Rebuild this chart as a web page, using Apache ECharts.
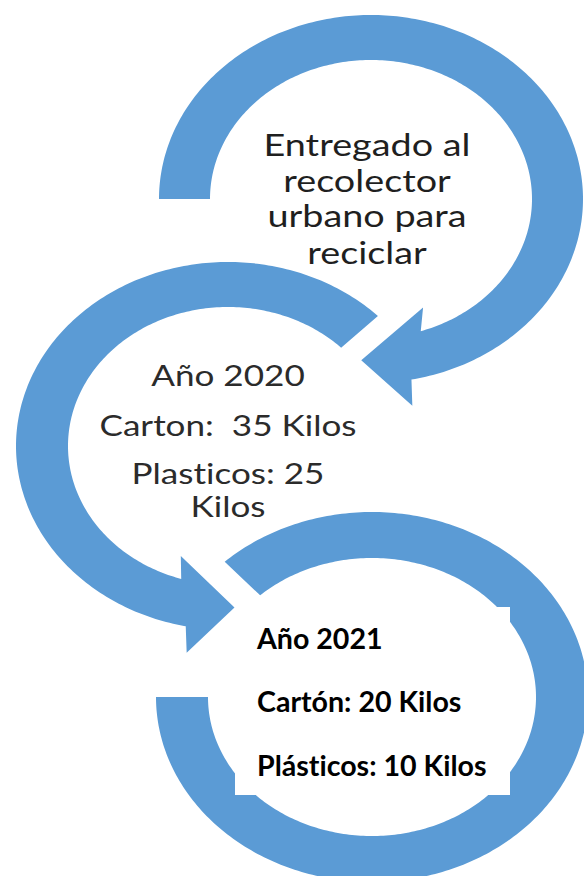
<!DOCTYPE html>
<html>
<head>
<meta charset="utf-8">
<script src="https://cdn.jsdelivr.net/npm/echarts@6/dist/echarts.min.js"></script>
<style>
html,body{margin:0;padding:0;background:#ffffff;}
#chart{width:584px;height:876px;}
#chart svg text{font-variant-ligatures:none !important;font-feature-settings:"liga" 0,"clig" 0,"dlig" 0 !important;}
</style>
</head>
<body>
<div id="chart"></div>
<script>
// ---------- DATA ----------
const stepTopLines = ['Entregado al', 'recolector', 'urbano para', 'reciclar'];
const years = ['Año 2020', 'Año 2021'];
const materials2020 = ['Carton', 'Plasticos'];
const kilos2020 = [35, 25];
const materials2021 = ['Cartón', 'Plásticos'];
const kilos2021 = [20, 10];
const unit = 'Kilos';

const midLines = [
  years[0],
  materials2020[0] + ':  ' + kilos2020[0] + ' ' + unit,
  materials2020[1] + ': ' + kilos2020[1],
  unit
];
const botLines = [
  years[1],
  materials2021[0] + ': ' + kilos2021[0] + ' ' + unit,
  materials2021[1] + ': ' + kilos2021[1] + ' ' + unit
];

// ---------- LAYOUT / STYLE ----------
const ARC_COLOR = '#5B9BD5';
const rings = [
  {c: [371, 199], outer: [212, 184], inner: [161, 139], start: 180, outerEnd: 439, innerEnd: 432,
   wingOut: {off: 26, t: 440}, tip: 453, wingIn: {off: -22, t: 428}},
  {c: [228, 446], outer: [212, 184], inner: [160, 139], start: -45, outerEnd: -258.5, innerEnd: -253,
   wingOut: {off: 26, t: -260}, tip: -272, wingIn: {off: -22, t: -250}},
  {c: [372, 697], outer: [216, 185], inner: [164, 139], start: 227, outerEnd: 540, innerEnd: 540}
];
const FONT_FAMILY = 'Lato, "Open Sans", sans-serif';
const textBlocks = [
  {lines: stepTopLines, x: 367, baselines: [157, 193, 228, 265], align: 'center',
   size: 30, weight: 'normal', fill: '#1f1f1f', fitLine: 0, fitWidth: 207},
  {lines: midLines, x: 228, baselines: [387, 437, 485, 518], align: 'center',
   size: 28, weight: 'normal', fill: '#2b2b2b', fitLine: 1, fitWidth: 257},
  {lines: botLines, x: 257, baselines: [650, 713, 777], align: 'left',
   size: 28, weight: 'bold', fill: '#000000', fitLine: 2, fitWidth: 230, box: [235, 607, 510, 795]}
];

function fontOf(b) { return b.weight + ' ' + b.size + 'px ' + FONT_FAMILY; }
const measureCtx = document.createElement('canvas').getContext('2d');
function fitScale(b) {
  measureCtx.font = fontOf(b);
  const w = measureCtx.measureText(b.lines[b.fitLine]).width;
  return w > 0 ? b.fitWidth / w : 1;
}

function ringPoints(r) {
  const pt = (rx, ry, t) => {
    const a = t * Math.PI / 180;
    return [r.c[0] + rx * Math.cos(a), r.c[1] + ry * Math.sin(a)];
  };
  const pts = [];
  const dir = r.outerEnd > r.start ? 1 : -1;
  for (let t = r.start; dir * (r.outerEnd - t) > 0; t += dir) pts.push(pt(r.outer[0], r.outer[1], t));
  pts.push(pt(r.outer[0], r.outer[1], r.outerEnd));
  if (r.tip != null) {
    pts.push(pt(r.outer[0] + r.wingOut.off, r.outer[1] + r.wingOut.off, r.wingOut.t));
    pts.push(pt((r.outer[0] + r.inner[0]) / 2, (r.outer[1] + r.inner[1]) / 2, r.tip));
    pts.push(pt(r.inner[0] + r.wingIn.off, r.inner[1] + r.wingIn.off, r.wingIn.t));
  }
  for (let t = r.innerEnd; dir * (t - r.start) > 0; t -= dir) pts.push(pt(r.inner[0], r.inner[1], t));
  pts.push(pt(r.inner[0], r.inner[1], r.start));
  return pts;
}

const chart = echarts.init(document.getElementById('chart'), null, {renderer: 'svg'});
chart.setOption({
  backgroundColor: '#ffffff',
  animation: false,
  grid: {left: 0, right: 0, top: 0, bottom: 0},
  xAxis: {type: 'value', min: 0, max: 584, show: false},
  yAxis: {type: 'value', min: 0, max: 876, inverse: true, show: false},
  series: [
    {
      type: 'custom',
      coordinateSystem: 'cartesian2d',
      silent: true,
      data: rings.map((r, i) => [i, 0]),
      renderItem: function (params, api) {
        const r = rings[params.dataIndex];
        const pts = ringPoints(r).map(p => api.coord(p));
        return {type: 'polygon', shape: {points: pts}, style: {fill: ARC_COLOR}};
      }
    },
    {
      type: 'custom',
      coordinateSystem: 'cartesian2d',
      silent: true,
      data: textBlocks.map((b, i) => [i, 0]),
      renderItem: function (params, api) {
        const b = textBlocks[params.dataIndex];
        const sx = fitScale(b);
        const children = [];
        if (b.box) {
          const p0 = api.coord([b.box[0], b.box[1]]);
          const p1 = api.coord([b.box[2], b.box[3]]);
          children.push({type: 'rect', shape: {x: p0[0], y: p0[1], width: p1[0] - p0[0], height: p1[1] - p0[1]},
            style: {fill: '#ffffff'}});
        }
        b.lines.forEach((line, k) => {
          const p = api.coord([b.x, b.baselines[k] - 0.42 * b.size]);
          children.push({
            type: 'text', x: p[0], y: p[1], scaleX: sx, scaleY: 1,
            style: {text: line, fill: b.fill, align: b.align, verticalAlign: 'middle', font: fontOf(b)}
          });
        });
        return {type: 'group', children: children};
      }
    }
  ]
});
</script>
</body>
</html>
